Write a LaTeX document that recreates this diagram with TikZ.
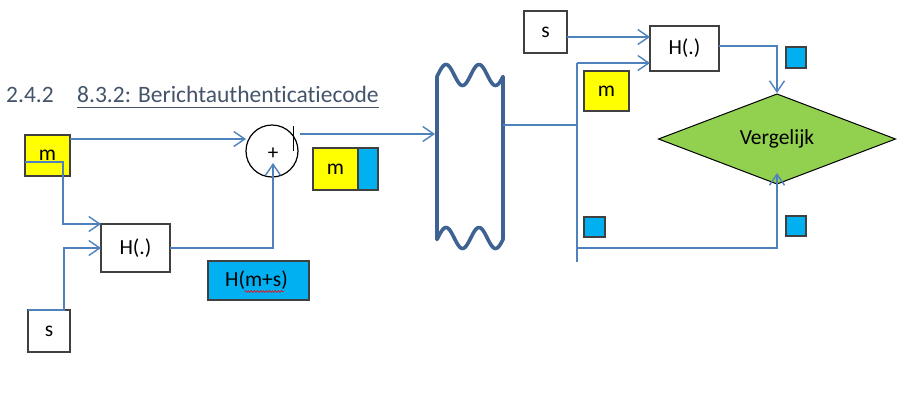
\documentclass[tikz,border=0pt]{standalone}
\usepackage{fontspec}
\setmainfont{Carlito}[Ligatures=NoCommon]
\usetikzlibrary{arrows.meta,calc,shapes.geometric,decorations.pathmorphing}
\definecolor{lineblue}{HTML}{4F81BD}
\definecolor{boxgray}{HTML}{404040}
\definecolor{myyellow}{HTML}{FFFF00}
\definecolor{myblue}{HTML}{00B0F0}
\definecolor{mygreen}{HTML}{92D050}
\definecolor{tapeblue}{HTML}{3E6392}
\definecolor{headcol}{HTML}{44546A}
\begin{document}
\begin{tikzpicture}[x=1pt,y=-1pt,
  bx/.style={draw=boxgray, line width=1.2pt, inner sep=0pt, outer sep=0pt,
    font=\fontsize{21.5}{25}\selectfont},
  ln/.style={draw=lineblue, line width=1.4pt},
  arr/.style={ln, -{Straight Barb[length=11pt,width=15pt,line width=1.4pt]}},
  wave/.style={draw=tapeblue, line width=3.6pt, line join=round, line cap=round}]
\useasboundingbox (0,0) rectangle (908,408);

% heading
\node[anchor=base west, inner sep=0pt, text=headcol, font=\fontsize{23.5}{27}\selectfont] (num) at (6,102) {2.4.2};
\node[anchor=base west, inner sep=0pt, text=headcol, font=\fontsize{23.5}{27}\selectfont] (head) at (77,102) {8.3.2: Berichtauthenticatiecode};
\draw[headcol, line width=1pt] ($(head.base west)+(0,5)$) -- ($(head.base east)+(0,5)$);

% left side boxes
\node[bx, fill=myyellow, minimum width=45pt, minimum height=41pt] (m1) at (47.5,155.5) {m};
\node[bx, fill=white, minimum width=69pt, minimum height=48pt] (H1) at (135.5,248) {H(.)};
\node[bx, fill=white, minimum width=42pt, minimum height=42pt] (s1) at (49,331) {s};
\node[bx, fill=myyellow, minimum width=45pt, minimum height=42pt] (mb) at (335.5,169) {m};
\node[bx, fill=myblue, minimum width=20pt, minimum height=42pt] (mbb) at (368,169) {};
\node[bx, fill=myblue, minimum width=101pt, minimum height=39pt] (Hms) at (258.5,280.5) {H(m+s)\hspace*{4pt}};
\draw[red, line width=0.6pt, decorate, decoration={snake, amplitude=0.9pt, segment length=3pt}]
  ($(Hms.center)+(-14,11)$) -- ($(Hms.center)+(25,11)$);

\node[draw=black, line width=1.2pt, circle, minimum size=52pt, inner sep=0pt, outer sep=0pt] (plus) at (272,151) {};
\node[inner sep=0pt, font=\fontsize{21}{24}\selectfont] (plustxt) at (273,154) {+};
\draw[black, line width=0.9pt] ($(plus.north)+(21,1)$) -- ++(0,25);

% tape shape
\draw[wave] plot[domain=437:503, samples=60] (\x, {75 - 10.5*cos(10.909*(\x-446))})
  -- plot[domain=503:437, samples=60] (\x, {238 - 10.5*cos(10.909*(\x-446))}) -- cycle;
\coordinate (tapeW) at (435,134);
\coordinate (tapeE) at (503,125);

% left connectors
\coordinate (p1) at ($(m1.north east)+(0,4)$);
\draw[arr] (p1) -- (p1 -| plus.west);
\coordinate (p2) at ($(plus.north)+(28,9)$);
\draw[arr] (p2) -- (p2 -| tapeW);
\draw[arr] ($(m1.west)+(0,6.5)$) -| ++(38,62) -- (H1.north west);
\draw[arr] (s1.north west) -- ++(36,0) |- (H1.west);
\draw[arr] (H1.east) -| ($(plus.south)+(1,-14)$);

% right side
\node[bx, fill=white, minimum width=43pt, minimum height=42pt] (s2) at (545.5,32) {s};
\node[bx, fill=white, minimum width=69pt, minimum height=45pt] (H2) at (684.5,48.5) {H(.)};
\node[bx, fill=myyellow, minimum width=45pt, minimum height=40pt] (m2) at (606.5,91) {m};
\node[bx, fill=myblue, minimum width=20pt, minimum height=21pt] (sq1) at (796,57.5) {};
\node[bx, fill=myblue, minimum width=21pt, minimum height=20pt] (sq2) at (594.5,227) {};
\node[bx, fill=myblue, minimum width=20pt, minimum height=20pt] (sq3) at (796,226) {};
\node[draw=black, line width=1pt, fill=mygreen, diamond, aspect=2.63, minimum width=237pt, minimum height=90pt,
  inner sep=0pt, outer sep=0pt, font=\fontsize{21.5}{25}\selectfont] (cmp) at (777,139) {Vergelijk};

\coordinate (busT) at (577,63);
\coordinate (busB) at (577,262);
\coordinate (busL) at (577,248);
\draw[ln] (busT) -- (busB);
\draw[ln] (tapeE) -- (tapeE -| busT);
\draw[arr] (busT) -- (busT -| H2.west);
\coordinate (q) at ($(s2.east)+(0,5)$);
\draw[arr] (q) -- (q -| H2.west);
\draw[arr] ($(H2.east)+(0,-2.5)$) -| ($(cmp.north)+(0,-1)$);
\draw[arr] (busL) -| ($(cmp.south)+(0,-11)$);
\end{tikzpicture}
\end{document}
